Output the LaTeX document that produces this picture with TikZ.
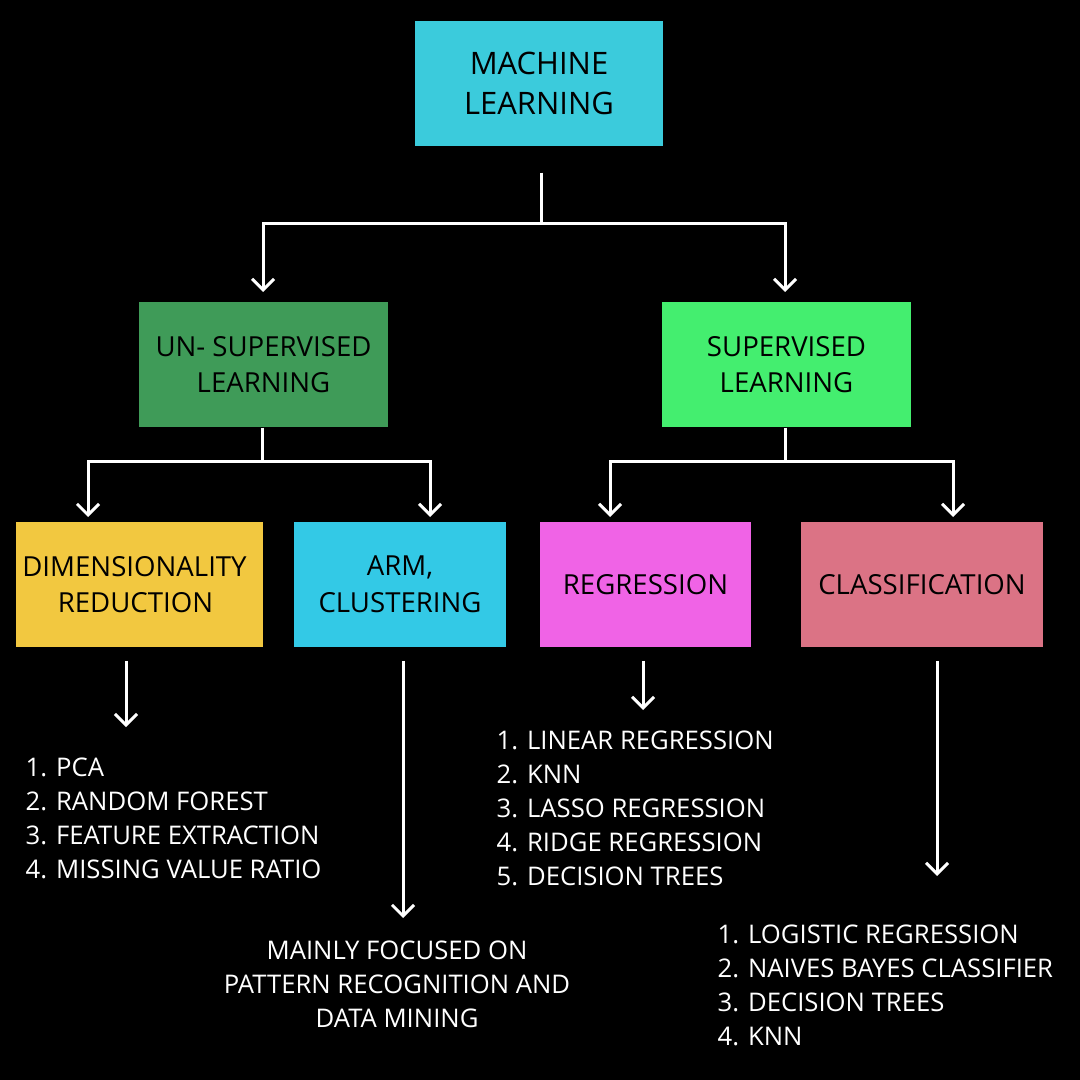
\documentclass[tikz,border=0pt]{standalone}
\usepackage{fontspec}
\setmainfont{Open Sans}
\usetikzlibrary{arrows.meta}
\definecolor{mlcyan}{HTML}{3BCBDC}
\definecolor{unsgreen}{HTML}{3F9B58}
\definecolor{supgreen}{HTML}{44EE6F}
\definecolor{dimyellow}{HTML}{F2C840}
\definecolor{armcyan}{HTML}{33C9E6}
\definecolor{regmag}{HTML}{F063E6}
\definecolor{clspink}{HTML}{DB7385}
\begin{document}
\begin{tikzpicture}[x=0.01cm,y=-0.01cm,
  box/.style={minimum height=1.25cm, inner sep=0pt, align=center, text=black,
    font=\fontsize{7.85}{10.4}\selectfont},
  conn/.style={white, line width=0.03cm},
  arr/.style={conn, -{Straight Barb[length=0.11cm,width=0.22cm]}},
  listtext/.style={text=white, align=left, anchor=north west, inner sep=0pt,
    font=\fontsize{7.3}{9.7}\selectfont}]
\fill[black] (0,0) rectangle (1080,1080);
\useasboundingbox (0,0) rectangle (1080,1080);

% boxes
\node[box, fill=mlcyan, minimum width=2.48cm, font=\fontsize{8.8}{11.4}\selectfont] (ml) at (539,83.5) {MACHINE\\LEARNING};
\node[box, fill=unsgreen, minimum width=2.49cm] (uns) at (263.5,364.5) {UN- SUPERVISED\\LEARNING};
\node[box, fill=supgreen, minimum width=2.49cm] (sup) at (786.5,364.5) {SUPERVISED\\LEARNING};
\node[box, fill=dimyellow, minimum width=2.47cm] (dim) at (139.5,584.5) {DIMENSIONALITY\hspace*{0.1cm}\mbox{}\\REDUCTION\hspace*{0.08cm}\mbox{}};
\node[box, fill=armcyan, minimum width=2.12cm] (arm) at (400,584.5) {ARM,\\CLUSTERING};
\node[box, fill=regmag, minimum width=2.11cm] (reg) at (645.5,584.5) {REGRESSION};
\node[box, fill=clspink, minimum width=2.42cm] (cls) at (922,584.5) {CLASSIFICATION};

% texts
\node[listtext] (dlist) at (25,757) {1. PCA\\2. RANDOM FOREST\\3. FEATURE EXTRACTION\\4. MISSING VALUE RATIO};
\node[listtext, anchor=north, align=center] (alist) at (397,940) {MAINLY FOCUSED ON\\PATTERN RECOGNITION AND\\DATA MINING};
\node[listtext] (rlist) at (496,730) {1. LINEAR REGRESSION\\2. KNN\\3. LASSO REGRESSION\\4. RIDGE REGRESSION\\5. DECISION TREES};
\node[listtext] (clist) at (717,924) {1. LOGISTIC REGRESSION\\2. NAIVES BAYES CLASSIFIER\\3. DECISION TREES\\4. KNN};

% junctions and arrow ends
\coordinate (j0) at (541,224);
\coordinate (j1) at (262,462);
\coordinate (j2) at (785,462);
\coordinate (unsin) at (263,292);
\coordinate (supin) at (785,292);
\coordinate (dimin) at (88,517);
\coordinate (armin) at (430,517);
\coordinate (regin) at (610,517);
\coordinate (clsin) at (953,517);
\coordinate (dimout) at (126,727);
\coordinate (armout) at (403,918);
\coordinate (regout) at (643,710);
\coordinate (clsout) at (937,876);

% top level
\draw[conn, shorten <=0.26cm] (ml.south -| j0) -- (j0);
\draw[arr] (j0) -| (unsin);
\draw[arr] (j0) -| (supin);
% second level
\draw[conn] (uns.south -| j1) -- (j1);
\draw[arr] (j1) -| (dimin);
\draw[arr] (j1) -| (armin);
\draw[conn] (sup.south -| j2) -- (j2);
\draw[arr] (j2) -| (regin);
\draw[arr] (j2) -| (clsin);
% bottom arrows
\draw[arr, shorten <=0.13cm] (dim.south -| dimout) -- (dimout);
\draw[arr, shorten <=0.13cm] (arm.south -| armout) -- (armout);
\draw[arr, shorten <=0.13cm] (reg.south -| regout) -- (regout);
\draw[arr, shorten <=0.13cm] (cls.south -| clsout) -- (clsout);
\end{tikzpicture}
\end{document}
